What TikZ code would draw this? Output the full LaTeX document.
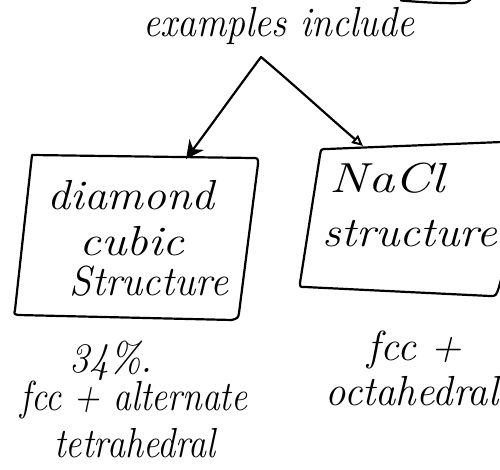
\documentclass[tikz,border=0pt]{standalone}
\usetikzlibrary{arrows.meta}
\begin{document}
\begin{tikzpicture}[x=1pt,y=-1pt, line cap=round, line join=round,
  ink/.style={line width=2.2pt, black},
  hand/.style={font=\fontsize{42}{46}\selectfont\itshape, inner sep=0pt, anchor=base},
]
\useasboundingbox (0,0) rectangle (500,470);

% corner of a box above, cut by the page edge
\draw[ink] (401,0.5) .. controls (430,3) and (450,3.5) .. (462,3) .. controls (467,2.5) .. (471,-1);

% heading
\node[hand, xscale=0.9] (ex) at (279,37) {examples include};

% fork point and arrow ends
\coordinate (fork) at (261,57);
\coordinate (dcTop) at (186,159);
\coordinate (naclTop) at (363,146);

% left box: diamond cubic structure
\draw[ink] (32,155) -- (252,158) .. controls (258,158) .. (258,164)
  -- (239,313) .. controls (238,318) .. (232,320)
  -- (18,315) .. controls (14,314) .. (15,310) -- cycle;
\node[hand, xscale=1.09] (dia) at (131,210) {diamond};
\node[hand, xscale=1.15] (cub) at (132,255) {cubic};
\node[hand, xscale=0.96] (str) at (149,295) {Structure};

% right box: NaCl structure
\draw[ink] (502,142) -- (327,149) .. controls (321,149) .. (320,155)
  -- (300,283) .. controls (300,287) .. (305,287)
  -- (490,296) .. controls (496,296) .. (499,287) -- (502,276);
\node[hand, xscale=1.25] (nacl) at (387,193) {NaCl};
\node[hand, xscale=1.1] (st2) at (410,247) {structure};

% arrows
\draw[ink, -{Stealth[length=18pt,width=18pt]}] (fork) .. controls (235,92) and (215,120) .. (dcTop);
\draw[ink, -{Triangle[open,length=11pt,width=10pt,line width=2pt]}] (fork) .. controls (300,90) and (330,118) .. (naclTop);

% annotations under the boxes
\node[hand, xscale=0.95] (pct) at (111,372) {34\%.};
\node[hand, xscale=0.85] (fa) at (134,410) {fcc + alternate};
\node[hand, xscale=0.86] (te) at (135,457) {tetrahedral};
\node[hand] (fp) at (415,360) {fcc +};
\node[hand, xscale=0.97] (oc) at (412,405) {octahedral};
\end{tikzpicture}
\end{document}
